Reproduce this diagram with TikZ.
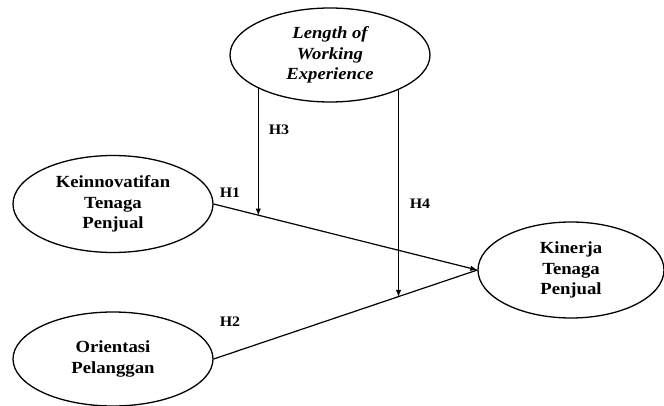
\documentclass[tikz,border=0pt]{standalone}
\usepackage{fontspec}
\newfontfamily\lblfont{Liberation Serif}[FakeStretch=1.1]
\usetikzlibrary{shapes.geometric,arrows.meta,calc}
\begin{document}
\begin{tikzpicture}[x=1pt,y=-1pt,
  var/.style={draw, ellipse, line width=1.3pt, inner sep=0pt, align=center,
    font=\lblfont\fontsize{17}{20.5}\selectfont\bfseries},
  conn/.style={line width=1.2pt},
  arr/.style={conn, -{Latex[length=7pt,width=5.5pt]}},
  hlab/.style={font=\lblfont\fontsize{14.5}{16}\selectfont\bfseries, inner sep=0pt}]
\useasboundingbox (0,0) rectangle (664,406);
\node[var, minimum width=200pt, minimum height=94pt] (lwe) at (330,55)
  {\itshape Length of\\\itshape Working\\\itshape Experience};
\node[var, minimum width=200pt, minimum height=97pt] (kti) at (113,204)
  {Keinnovatifan\\Tenaga\\Penjual};
\node[var, minimum width=200pt, minimum height=94pt] (op) at (113,359)
  {Orientasi\\Pelanggan};
\node[var, minimum width=186pt, minimum height=96pt] (ktp) at (571,270)
  {Kinerja\\Tenaga\\Penjual};
\draw[arr] (kti.east) -- (ktp.west);
\draw[conn] (op.east) -- (ktp.west);
\coordinate (h3tip) at ($(kti.east)!0.175!(ktp.west)$);
\coordinate (h4tip) at ($(op.east)!0.697!(ktp.west)$);
\draw[arr] (lwe.-155) -- (lwe.-155 |- h3tip);
\draw[arr] (lwe.-27) -- (lwe.-27 |- h4tip);
\node[hlab] (h1) at (230,193) {H1};
\node[hlab] (h2) at (230,322) {H2};
\node[hlab] (h3) at (279,130) {H3};
\node[hlab] (h4) at (420,204) {H4};
\end{tikzpicture}
\end{document}
